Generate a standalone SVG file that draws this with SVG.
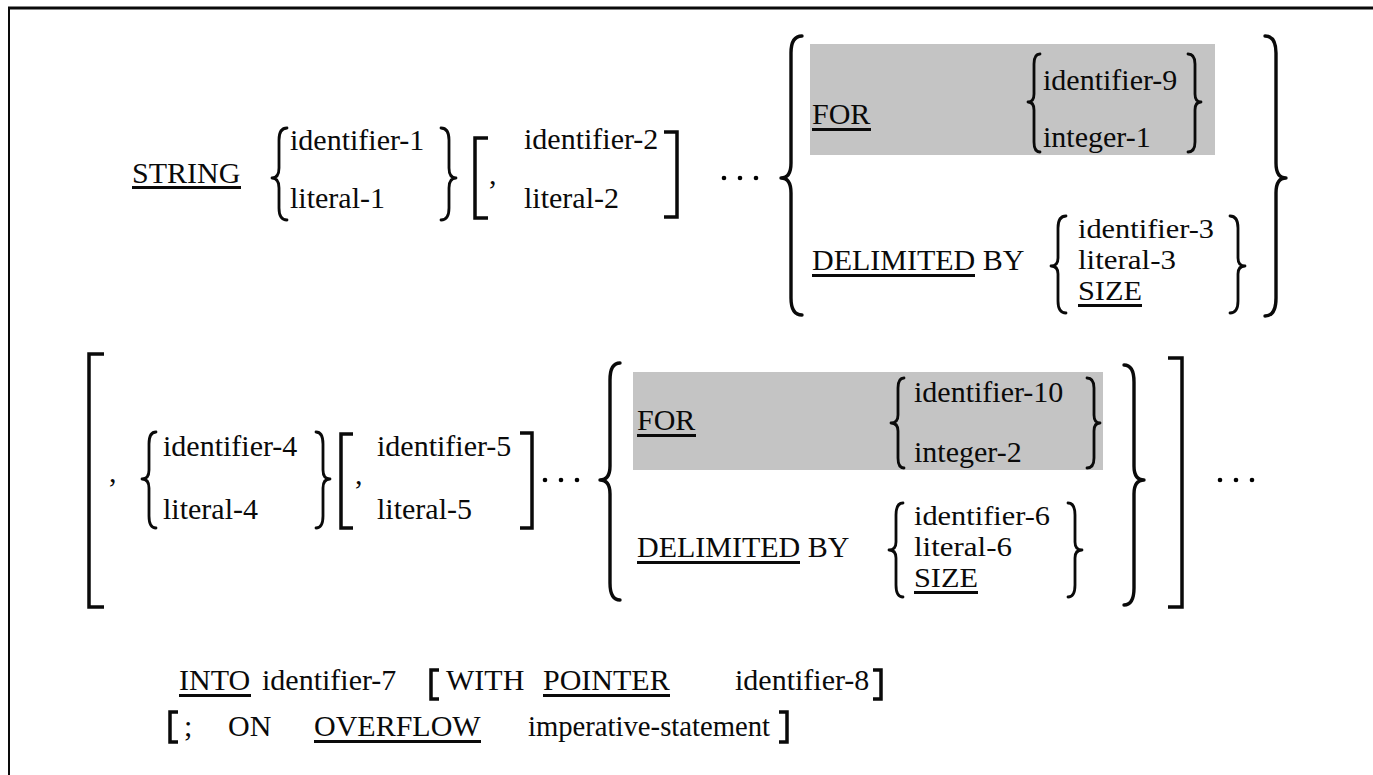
<svg xmlns="http://www.w3.org/2000/svg" width="1373" height="775" viewBox="0 0 1373 775" font-family="'Liberation Serif', Tinos, 'Times New Roman', 'DejaVu Serif', serif">
<style>
text{font-family:'Liberation Serif',Tinos,'Times New Roman','DejaVu Serif',serif;font-size:30px;fill:#0a0a0a}
text.st{font-size:27.5px}
.br{fill:none;stroke:#0a0a0a;stroke-width:2.8;stroke-linecap:round;stroke-linejoin:round}
.bb{stroke-width:3.4}
.bk{fill:none;stroke:#0a0a0a;stroke-width:3.5;stroke-linejoin:miter}
.ul{fill:#0a0a0a}
.shade{fill:#c4c4c4}
.frame{fill:none;stroke:#0a0a0a}
</style>
<rect width="1373" height="775" fill="#fff"/>
<g id="frame">
<path class="frame" d="M8,8 L1373,8" stroke-width="3"/>
<path class="frame" d="M9,8 L9,775" stroke-width="2"/>
</g>
<g id="row1">
<g id="string-kw"><text x="132" y="183">STRING</text><rect class="ul" x="132" y="186" width="109" height="3"/></g>
<g id="choice1">
<path class="br" d="M287,128 Q279,128 279,140 L279,168 Q279,178 272,178 Q279,178 279,188 L279,208 Q279,220 287,220"/>
<text x="290" y="150">identifier-1</text>
<text x="290" y="208">literal-1</text>
<path class="br" d="M441,128 Q449,128 449,140 L449,168 Q449,178 456,178 Q449,178 449,188 L449,208 Q449,220 441,220"/>
</g>
<g id="option2">
<path class="bk" d="M488,138 L475,138 L475,218 L488,218"/>
<text x="489" y="184">,</text>
<text x="524" y="149">identifier-2</text>
<text x="524" y="208">literal-2</text>
<path class="bk" d="M664,132 L677,132 L677,217 L664,217"/>
</g>
<g id="ellipsis1"><circle cx="724" cy="178" r="2.3"/><circle cx="740" cy="178" r="2.3"/><circle cx="756" cy="178" r="2.3"/></g>
<g id="choice-for-delim1">
<path class="br bb" d="M802,36 Q791,36 791,53 L791,163 Q791,178 781,178 Q791,178 791,193 L791,298 Q791,315 802,315"/>
<rect class="shade" x="810" y="44" width="405" height="111"/>
<text x="812" y="124">FOR</text><rect class="ul" x="812" y="128" width="59" height="3"/>
<path class="br" d="M1040,54 Q1034,54 1034,64 L1034,94 Q1034,102 1028,102 Q1034,102 1034,110 L1034,142 Q1034,152 1040,152"/>
<text x="1043" y="90">identifier-9</text>
<text x="1043" y="147">integer-1</text>
<path class="br" d="M1188,54 Q1195,54 1195,64 L1195,94 Q1195,102 1201,102 Q1195,102 1195,110 L1195,142 Q1195,152 1188,152"/>
<text x="812" y="270">DELIMITED BY</text><rect class="ul" x="812" y="274" width="163" height="3"/>
<path class="br" d="M1066,216 Q1058,216 1058,228 L1058,258 Q1058,266 1051,266 Q1058,266 1058,274 L1058,301 Q1058,313 1066,313"/>
<text class="st" x="1078" y="238" textLength="136" lengthAdjust="spacingAndGlyphs">identifier-3</text>
<text class="st" x="1078" y="269" textLength="98" lengthAdjust="spacingAndGlyphs">literal-3</text>
<text class="st" x="1078" y="300" textLength="64" lengthAdjust="spacingAndGlyphs">SIZE</text><rect class="ul" x="1078" y="304" width="64" height="3"/>
<path class="br" d="M1230,216 Q1238,216 1238,228 L1238,258 Q1238,266 1245,266 Q1238,266 1238,274 L1238,301 Q1238,313 1230,313"/>
<path class="br bb" d="M1265,36 Q1276,36 1276,53 L1276,163 Q1276,178 1286,178 Q1276,178 1276,193 L1276,298 Q1276,316 1265,316"/>
</g>
</g>
<g id="row2">
<path class="bk" d="M104,354 L89,354 L89,607 L104,607" stroke-width="4"/>
<text x="109" y="482">,</text>
<g id="choice4">
<path class="br" d="M156,432 Q149,432 149,444 L149,470 Q149,479 142,479 Q149,479 149,488 L149,516 Q149,528 156,528"/>
<text x="163" y="456">identifier-4</text>
<text x="163" y="519">literal-4</text>
<path class="br" d="M316,432 Q323,432 323,444 L323,470 Q323,479 330,479 Q323,479 323,488 L323,516 Q323,528 316,528"/>
</g>
<g id="option5">
<path class="bk" d="M353,434 L341,434 L341,528 L353,528"/>
<text x="355" y="484">,</text>
<text x="377" y="456">identifier-5</text>
<text x="377" y="519">literal-5</text>
<path class="bk" d="M520,433 L532,433 L532,528 L520,528"/>
</g>
<g id="ellipsis2"><circle cx="545" cy="480" r="2.3"/><circle cx="561" cy="480" r="2.3"/><circle cx="577" cy="480" r="2.3"/></g>
<g id="choice-for-delim2">
<path class="br bb" d="M620,363 Q610,363 610,380 L610,466 Q610,480 600,480 Q610,480 610,494 L610,583 Q610,600 620,600"/>
<rect class="shade" x="633" y="372" width="470" height="98"/>
<text x="637" y="430">FOR</text><rect class="ul" x="637" y="434" width="59" height="3"/>
<path class="br" d="M904,378 Q898,378 898,388 L898,415 Q898,423 891,423 Q898,423 898,431 L898,458 Q898,468 904,468"/>
<text x="914" y="402">identifier-10</text>
<text x="914" y="462">integer-2</text>
<path class="br" d="M1087,378 Q1094,378 1094,388 L1094,415 Q1094,423 1100,423 Q1094,423 1094,431 L1094,458 Q1094,468 1087,468"/>
<text x="637" y="557">DELIMITED BY</text><rect class="ul" x="637" y="561" width="163" height="3"/>
<path class="br" d="M903,503 Q896,503 896,515 L896,542 Q896,550 889,550 Q896,550 896,558 L896,585 Q896,597 903,597"/>
<text class="st" x="914" y="525" textLength="136" lengthAdjust="spacingAndGlyphs">identifier-6</text>
<text class="st" x="914" y="556" textLength="98" lengthAdjust="spacingAndGlyphs">literal-6</text>
<text class="st" x="914" y="587" textLength="64" lengthAdjust="spacingAndGlyphs">SIZE</text><rect class="ul" x="914" y="591" width="64" height="3"/>
<path class="br" d="M1068,503 Q1075,503 1075,515 L1075,542 Q1075,550 1082,550 Q1075,550 1075,558 L1075,585 Q1075,597 1068,597"/>
<path class="br bb" d="M1124,365 Q1134,365 1134,382 L1134,466 Q1134,480 1144,480 Q1134,480 1134,494 L1134,588 Q1134,605 1124,605"/>
</g>
<path class="bk" d="M1168,358 L1182,358 L1182,607 L1168,607" stroke-width="4"/>
<g id="ellipsis3"><circle cx="1220" cy="480" r="2.3"/><circle cx="1236" cy="480" r="2.3"/><circle cx="1252" cy="480" r="2.3"/></g>
</g>
<g id="row3">
<text x="179" y="690">INTO</text><rect class="ul" x="179" y="694" width="72" height="3"/>
<text x="262" y="690">identifier-7</text>
<path class="bk" d="M439,670 L431,670 L431,699 L439,699" stroke-width="3"/>
<text x="446" y="690">WITH</text>
<text x="543" y="690">POINTER</text><rect class="ul" x="543" y="694" width="127" height="3"/>
<text x="735" y="690">identifier-8</text>
<path class="bk" d="M873,670 L881,670 L881,699 L873,699" stroke-width="3"/>
</g>
<g id="row4">
<path class="bk" d="M178,712 L170,712 L170,742 L178,742" stroke-width="3"/>
<text x="184" y="736">;</text>
<text x="228" y="736">ON</text>
<text x="314" y="736">OVERFLOW</text><rect class="ul" x="314" y="740" width="167" height="3"/>
<text x="528" y="736" textLength="242" lengthAdjust="spacingAndGlyphs">imperative-statement</text>
<path class="bk" d="M779,712 L787,712 L787,742 L779,742" stroke-width="3"/>
</g>
</svg>
